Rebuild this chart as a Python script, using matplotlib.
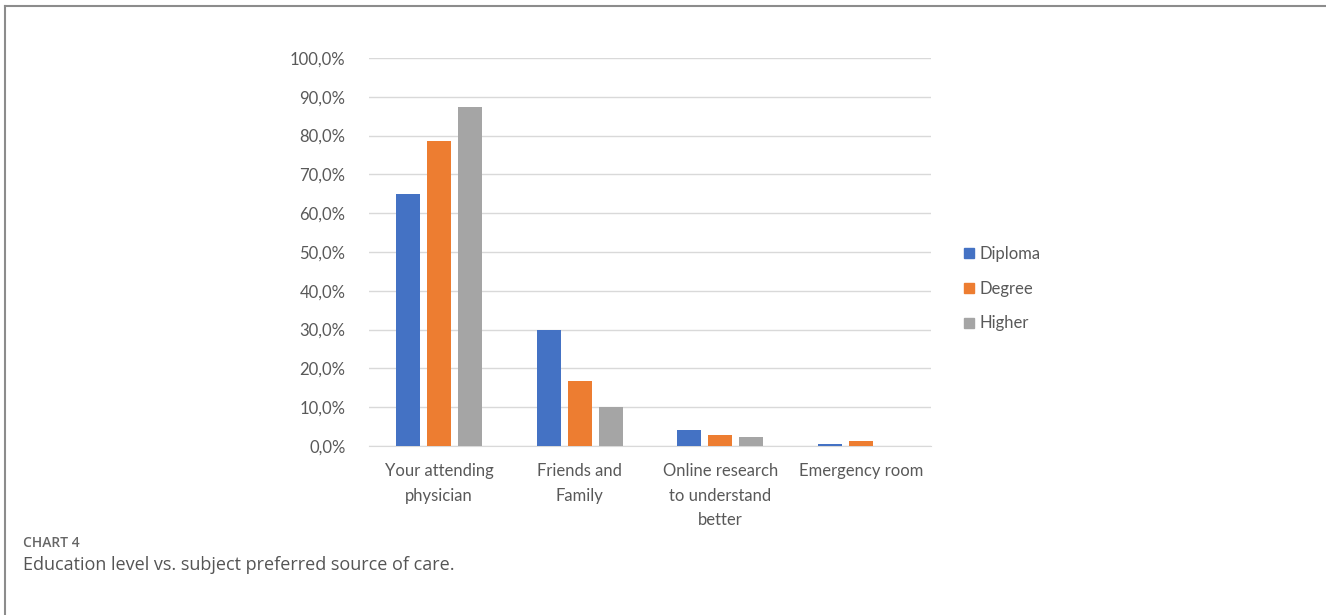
import numpy as np
import matplotlib
matplotlib.use("Agg")
import matplotlib.pyplot as plt
from matplotlib.lines import Line2D

# Preferred source of care by education level (%)
categories = ["Your attending\nphysician", "Friends and\nFamily",
              "Online research\nto understand\nbetter", "Emergency room"]
series_names = ["Diploma", "Degree", "Higher"]
diploma = [64.9, 29.9, 4.2, 0.6]
degree = [78.5, 16.7, 2.9, 1.4]
higher = [87.3, 10.1, 2.4, 0.0]
colors = ["#4472c4", "#ed7d31", "#a5a5a5"]
yticks = np.arange(0, 101, 10)

plt.rcParams['font.family'] = ['Lato', 'DejaVu Sans']

fig = plt.figure(figsize=(13.26, 6.15), dpi=100)
ax = fig.add_axes([369 / 1326, 1 - 446 / 615, 562 / 1326, 388 / 615])

x = np.arange(len(categories))
width = 0.17
step = 0.22
for i, (vals, name) in enumerate(zip([diploma, degree, higher], series_names)):
    ax.bar(x + (i - 1) * step, vals, width, color=colors[i], label=name, zorder=3)

ax.set_xlim(-0.5, len(categories) - 0.5)
ax.set_ylim(0, 100)
ax.set_yticks(yticks)
ax.set_yticklabels([f"{v:.1f}%".replace(".", ",") for v in yticks])
ax.set_xticks(x)
ax.set_xticklabels(categories, linespacing=1.68, va="top")
ax.tick_params(axis="both", length=0, labelsize=12, colors="#595959")
ax.tick_params(axis="y", pad=17)
ax.tick_params(axis="x", pad=12)
ax.grid(axis="y", color="#d9d9d9", linewidth=1, zorder=0)
for s in ["top", "right", "left"]:
    ax.spines[s].set_visible(False)
ax.spines["bottom"].set_color("#d9d9d9")

handles = [Line2D([], [], marker="s", linestyle="", markersize=7,
                  color=c, label=n) for c, n in zip(colors, series_names)]
fig.legend(handles=handles, loc="upper left", bbox_to_anchor=(946 / 1326, 1 - 231 / 615),
           frameon=False, fontsize=12, labelspacing=1.12, handletextpad=0.1,
           handlelength=1.0, labelcolor="#595959")

# caption block
fig.text(23 / 1326, 1 - 543 / 615, "CHART 4", fontsize=10, color="#666666",
         weight="semibold", family=["Open Sans", "DejaVu Sans"], va="center")
fig.text(23 / 1326, 1 - 565 / 615, "Education level vs. subject preferred source of care.",
         fontsize=13, color="#555555", family=["Open Sans", "DejaVu Sans"], va="center")

# outer frame: top and left edges
fig.add_artist(Line2D([4.5 / 1326, 4.5 / 1326], [0, 1 - 5.5 / 615],
                      transform=fig.transFigure, color="#8c8c8c", linewidth=1.5))
fig.add_artist(Line2D([4.5 / 1326, 1], [1 - 5.5 / 615, 1 - 5.5 / 615],
                      transform=fig.transFigure, color="#8c8c8c", linewidth=1.5))

fig.savefig("out.png", dpi=100)
